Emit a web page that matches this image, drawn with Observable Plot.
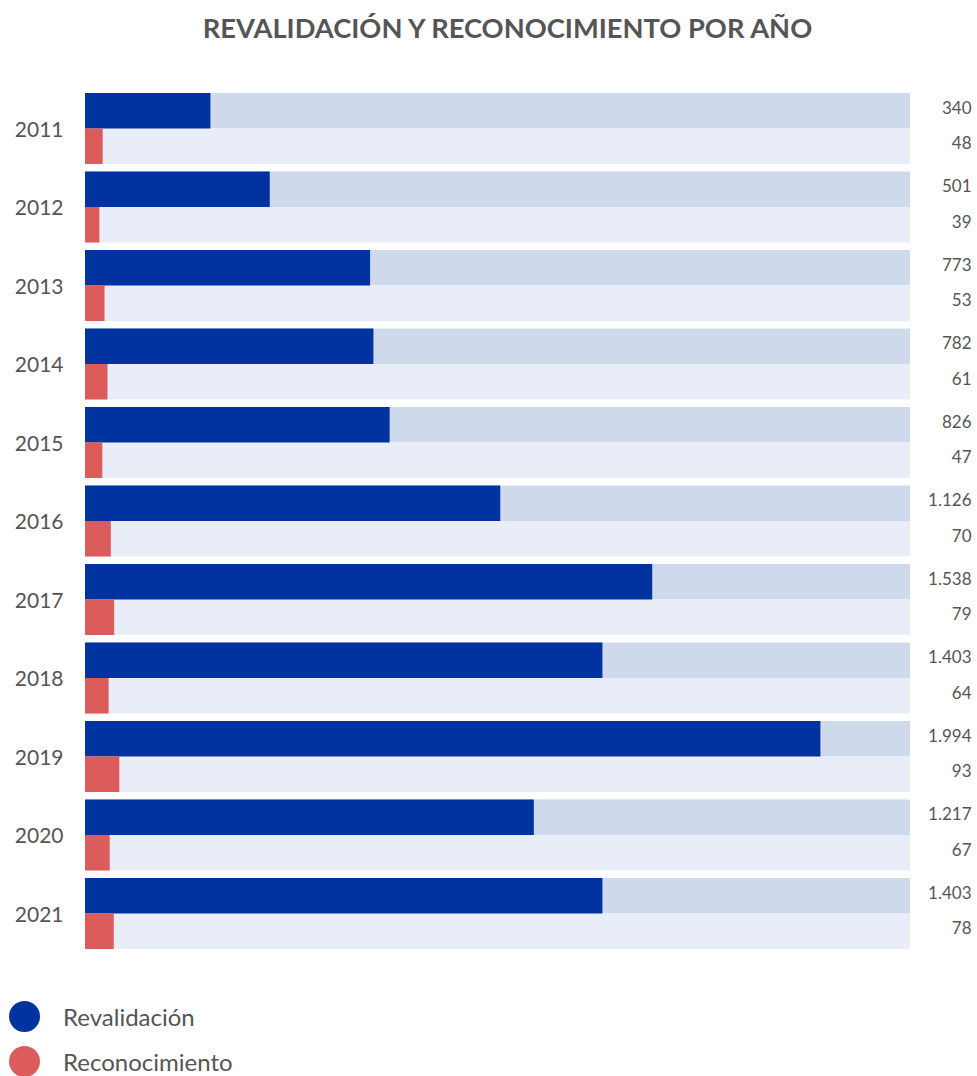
<!DOCTYPE html>
<html>
<head>
<meta charset="utf-8">
<script src="https://cdn.jsdelivr.net/npm/d3@7"></script>
<script src="https://cdn.jsdelivr.net/npm/@observablehq/plot@0.6"></script>
<style>
  html, body { margin: 0; padding: 0; background: #fff; }
  body { width: 977px; height: 1076px; position: relative; overflow: hidden; font-family: Lato, "Open Sans", sans-serif; color: #555; }
  #title { position: absolute; left: 19px; top: 14px; width: 977px; text-align: center; font-size: 27.3px; line-height: 27px; font-weight: 700; color: #555; }
  #chart { position: absolute; left: 0; top: 80px; }
  .legend { position: absolute; left: 9px; display: flex; align-items: center; font-size: 24px; color: #555; }
  .legend .dot { width: 31px; height: 31px; border-radius: 50%; margin-right: 23px; }
</style>
</head>
<body>
<div id="title">REVALIDACIÓN Y RECONOCIMIENTO POR AÑO</div>
<div id="chart"></div>
<div class="legend" style="top:1001px"><span class="dot" style="background:#0033a0"></span>Revalidación</div>
<div class="legend" style="top:1046px"><span class="dot" style="background:#dc5c5c"></span>Reconocimiento</div>
<script>
const years = [2011, 2012, 2013, 2014, 2015, 2016, 2017, 2018, 2019, 2020, 2021];
const revalidacion = [340, 501, 773, 782, 826, 1126, 1538, 1403, 1994, 1217, 1403];
const reconocimiento = [48, 39, 53, 61, 47, 70, 79, 64, 93, 67, 78];
const series = ["Revalidación", "Reconocimiento"];
const axisMax = 2237;

const colors = {"Revalidación": "#0033a0", "Reconocimiento": "#dc5c5c"};
const bgColors = {"Revalidación": "#cfd9ec", "Reconocimiento": "#e9edf7"};

const rows = [];
years.forEach((yr, i) => {
  rows.push({year: String(yr), serie: series[0], value: revalidacion[i]});
  rows.push({year: String(yr), serie: series[1], value: reconocimiento[i]});
});

const fmt = d3.formatLocale({decimal: ",", thousands: ".", grouping: [3], currency: ["", "€"]}).format(",d");

const chart = Plot.plot({
  width: 977,
  height: 889,
  marginTop: 13,
  marginBottom: 20,
  marginLeft: 85,
  marginRight: 67,
  style: {fontFamily: "Lato, 'Open Sans', sans-serif", color: "#555", background: "transparent"},
  x: {domain: [0, axisMax], axis: null},
  y: {domain: series, padding: 0, round: false, axis: null},
  fy: {domain: years.map(String), paddingInner: 0.0955, paddingOuter: 0, round: false, label: null},
  marks: [
    Plot.barX(rows, {fy: "year", y: "serie", x1: 0, x2: () => axisMax, fill: d => bgColors[d.serie]}),
    Plot.barX(rows, {fy: "year", y: "serie", x1: 0, x2: "value", fill: d => colors[d.serie]}),
    Plot.text(rows, {fy: "year", y: "serie", text: d => fmt(d.value), frameAnchor: "right", textAnchor: "end", dx: 61, dy: -3, fontSize: 17, fill: "#555"}),
    Plot.axisFy({anchor: "left", tickSize: 0, tickPadding: 22, fontSize: 21, dy: 1, label: null, fill: "#555"})
  ]
});
document.getElementById("chart").appendChild(chart);
</script>
</body>
</html>
